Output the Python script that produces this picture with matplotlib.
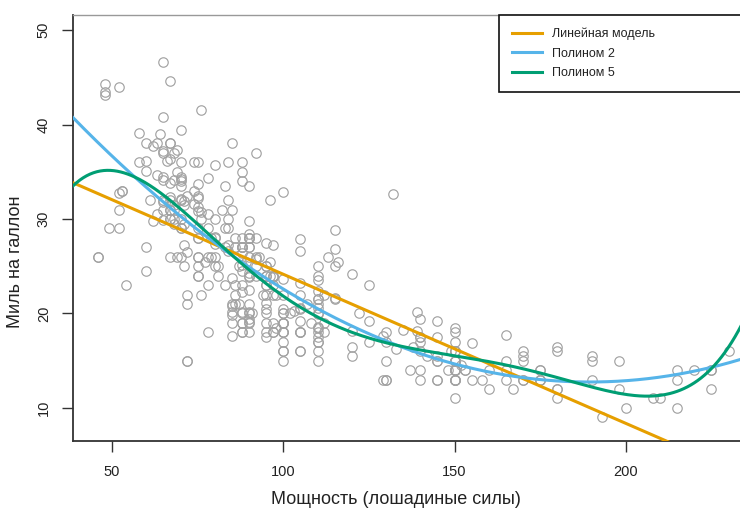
import numpy as np
import matplotlib
matplotlib.use("Agg")
import matplotlib.pyplot as plt

# Auto data: horsepower and mpg
horsepower = [
    130,165,150,150,140,198,220,215,225,190,170,160,150,225,95,95,97,85,88,46,87,90,95,113,90,215,200,210,193,
    88,90,95,100,105,100,88,100,165,175,153,150,180,170,175,110,72,100,88,86,90,70,76,65,69,60,70,95,80,
    54,90,86,165,175,150,153,150,208,155,160,190,97,150,130,140,150,112,76,87,69,86,92,97,80,88,
    175,150,145,137,150,198,150,158,150,215,225,175,105,100,100,88,95,46,150,167,170,180,100,88,72,94,90,85,107,90,145,230,49,75,91,112,150,110,122,180,
    95,100,100,67,80,65,75,100,110,105,140,150,150,140,150,83,67,78,52,61,75,75,75,97,93,67,
    95,105,72,72,170,145,150,148,110,105,110,95,110,110,129,75,83,100,78,96,71,97,97,70,90,95,88,98,115,53,
    86,81,92,79,83,140,150,120,152,100,105,81,90,52,60,70,53,100,78,110,95,71,70,75,72,102,150,88,108,120,180,145,130,150,
    68,80,58,96,70,145,110,145,130,110,105,100,98,180,170,190,149,78,88,75,89,63,83,67,78,97,110,110,
    48,66,52,70,60,110,140,139,105,95,85,88,100,90,105,85,110,120,145,165,139,140,68,95,97,75,95,105,85,97,103,125,115,133,71,68,
    115,85,88,90,110,130,129,138,135,155,142,125,150,71,65,80,80,77,125,71,90,70,70,65,69,90,115,115,90,
    76,60,70,65,90,88,90,90,78,90,75,92,75,65,105,65,48,48,67,67,67,67,62,132,100,88,72,
    84,84,92,110,84,58,64,60,67,65,62,68,63,65,65,74,75,75,100,74,80,76,116,120,110,105,88,85,
    88,88,88,85,84,90,92,74,68,68,63,70,88,75,70,67,67,67,110,85,92,112,96,84,90,86,52,84,79,82,
]
mpg = [
    18,15,18,16,17,15,14,14,14,15,15,14,15,14,24,22,18,21,27,26,25,24,25,26,21,10,10,11,9,
    27,28,25,19,16,17,19,18,14,14,14,14,12,13,13,18,22,19,18,23,28,30,30,31,35,27,26,24,25,
    23,20,21,13,14,15,14,17,11,13,12,13,19,15,13,13,14,18,22,21,26,22,28,23,28,27,
    13,14,13,14,15,12,13,13,14,13,12,13,18,16,18,18,23,26,11,12,13,12,18,20,21,22,18,19,21,26,15,16,29,24,20,19,15,24,20,11,
    20,19,15,31,26,32,25,16,16,18,16,13,14,14,14,29,26,26,31,32,28,24,26,24,26,31,
    19,18,15,15,16,15,16,14,17,16,15,18,21,20,13,29,23,20,23,24,25,24,18,29,19,23,23,22,25,33,
    28,25,25,26,27,17.5,16,15.5,14.5,22,22,24,22.5,29,24.5,29,33,20,18,18.5,17.5,29.5,32,28,26.5,20,13,19,19,16.5,16.5,13,13,13,
    31.5,30,36,25.5,33.5,17.5,17,15.5,15,17.5,20.5,19,18.5,16,15.5,15.5,16,29,24.5,26,25.5,30.5,33.5,30,30.5,22,21.5,21.5,
    43.1,36.1,32.8,39.4,36.1,19.9,19.4,20.2,19.2,20.5,20.2,25.1,20.5,19.4,20.6,20.8,18.6,18.1,19.2,17.7,18.1,17.5,30,27.5,27.2,30.9,21.1,23.2,23.8,23.9,20.3,17,21.6,16.2,31.5,29.5,
    21.5,19.8,22.3,20.2,20.6,17,17.6,16.5,18.2,16.9,15.5,19.2,18.5,31.9,34.1,35.7,27.4,25.4,23,27.2,23.9,34.2,34.5,31.8,37.3,28.4,28.8,26.8,33.5,
    41.5,38.1,32.1,37.2,28,26.4,24.3,19.1,34.3,29.8,31.3,37,32.2,46.6,27.9,40.8,44.3,43.4,36.4,30,44.6,33.8,29.8,32.7,23.7,35,32.4,
    27.2,26.6,25.8,23.5,30,39.1,39,35.1,32.3,37,37.7,34.1,34.7,34.4,29.9,33,33.7,32.4,32.9,31.6,28.1,30.7,25.4,24.2,22.4,26.6,20.2,17.6,
    28,27,34,31,29,27,24,36,37,31,38,36,36,36,34,38,32,38,25,38,26,22,32,36,27,27,44,32,28,31,
]

labels = ["Линейная модель", "Полином 2", "Полином 5"]
degrees = [1, 2, 5]
colors = ["#E69F00", "#56B4E9", "#009E73"]

plt.rcParams['font.family'] = ['Liberation Sans', 'DejaVu Sans']

W, H = 740, 515
fig = plt.figure(figsize=(W / 100, H / 100), dpi=100)

x0, x1 = 38.6, 237.4
y0, y1 = 6.5, 51.6
left_px, top_px, bottom_px = 73, 15, 441
px_per_hp = 3.425
width_px = (x1 - x0) * px_per_hp
ax = fig.add_axes([left_px / W, 1 - bottom_px / H, width_px / W, (bottom_px - top_px) / H])
ax.set_xlim(x0, x1)
ax.set_ylim(y0, y1)

hp = np.array(horsepower, dtype=float)
mp = np.array(mpg, dtype=float)
ax.plot(hp, mp, linestyle='none', marker='o', markersize=6.8,
        markerfacecolor='none', markeredgecolor='#a2a2a2', markeredgewidth=0.85, zorder=2)

grid = np.linspace(x0, x1, 400)
for deg, lab, col in zip(degrees, labels, colors):
    p = np.polynomial.Polynomial.fit(hp, mp, deg)
    ax.plot(grid, p(grid), color=col, linewidth=2.2, label=lab, zorder=3)

ax.set_xticks([50, 100, 150, 200])
ax.set_yticks([10, 20, 30, 40, 50])
ax.tick_params(axis='both', direction='out', length=8, width=1.0, color='#333333',
               labelsize=10.5, labelcolor='#222222')
ax.tick_params(axis='x', pad=9)
ax.tick_params(axis='y', pad=8)
for t in ax.get_yticklabels():
    t.set_rotation(90)
    t.set_va('center')

for s in ['left', 'bottom']:
    ax.spines[s].set_color('#333333')
    ax.spines[s].set_linewidth(1.3)
ax.spines['top'].set_color('#999999')
ax.spines['top'].set_linewidth(1.0)
ax.spines['right'].set_visible(False)

fig.text(396 / W, 1 - 500 / H, "Мощность (лошадиные силы)", ha='center', va='center',
         fontsize=13, color='#222222')
fig.text(16 / W, 1 - 262 / H, "Миль на галлон", ha='center', va='center',
         rotation=90, fontsize=13, color='#222222')

axw = width_px
lx = (499 - left_px) / axw
leg = ax.legend(loc='upper left', bbox_to_anchor=(lx, 1.0, 1.0 - lx + 0.02, 0.0),
                mode='expand', borderaxespad=0, fontsize=9, frameon=True,
                fancybox=False, edgecolor='#111111', framealpha=1,
                borderpad=1.0, labelspacing=0.62, handlelength=2.4, handletextpad=0.8)
leg.get_frame().set_linewidth(1.2)
for t in leg.get_texts():
    t.set_color('#222222')

fig.savefig("out.png", dpi=100)
